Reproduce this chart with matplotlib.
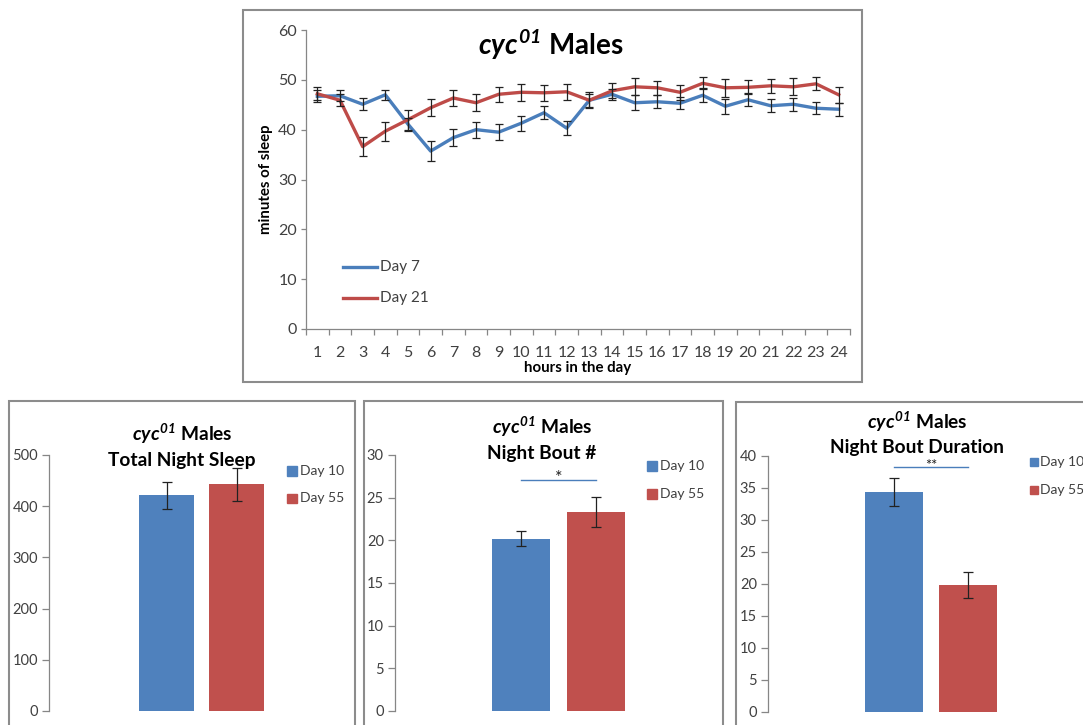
import matplotlib
matplotlib.use("Agg")
import matplotlib.pyplot as plt
from matplotlib.patches import Rectangle
from matplotlib.lines import Line2D
import numpy as np

plt.rcParams['font.family'] = ['Lato', 'DejaVu Sans']
plt.rcParams['mathtext.fontset'] = 'custom'
plt.rcParams['mathtext.it'] = 'Lato:italic:bold'
plt.rcParams['mathtext.rm'] = 'Lato:italic:bold'
plt.rcParams['mathtext.bf'] = 'Lato:bold'

# ---------------- data ----------------
hours = list(range(1, 25))
day7 = [46.7, 46.8, 45.1, 47.0, 41.1, 35.7, 38.4, 40.0, 39.5, 41.3, 43.4, 40.3,
        45.9, 47.1, 45.4, 45.6, 45.3, 46.9, 44.7, 46.0, 44.8, 45.1, 44.3, 44.1]
day7_err = [1.2, 1.1, 1.25, 1.0, 1.3, 2.0, 1.75, 1.6, 1.6, 1.5, 1.3, 1.45,
            1.3, 1.1, 1.5, 1.3, 1.25, 1.4, 1.5, 1.3, 1.3, 1.3, 1.25, 1.3]
day21 = [47.2, 45.9, 36.6, 39.7, 42.0, 44.4, 46.35, 45.4, 47.1, 47.5, 47.4, 47.6,
         45.9, 47.8, 48.6, 48.4, 47.5, 49.3, 48.4, 48.5, 48.8, 48.6, 49.2, 47.0]
day21_err = [1.3, 1.2, 1.9, 1.9, 2.0, 1.7, 1.7, 1.7, 1.55, 1.7, 1.55, 1.6,
             1.6, 1.5, 1.7, 1.4, 1.5, 1.2, 1.8, 1.4, 1.4, 1.7, 1.3, 1.55]
line_series = ['Day 7', 'Day 21']

groups = ['Day 10', 'Day 55']
total_sleep = [421, 443]
total_sleep_err = [27, 32]
bout_num = [20.2, 23.35]
bout_num_err = [0.9, 1.75]
bout_dur = [34.3, 19.8]
bout_dur_err = [2.2, 2.05]
bout_num_sig = ('*', 27.1)
bout_dur_sig = ('**', 38.2)

# ---------------- styling ----------------
BLUE_LINE = '#4A7EBB'
RED_LINE = '#BE4B48'
BLUE_BAR = '#4F81BD'
RED_BAR = '#C0504D'
AXIS_GREY = '#868686'
TEXT_GREY = '#404040'
FRAME = '#8C8C8C'

W, H = 1083, 725
fig = plt.figure(figsize=(W / 100, H / 100), dpi=100)


def fx(x):
    return x / W


def fy(y):
    return 1 - y / H


def px_axes(left, top, right, bottom):
    return fig.add_axes([left / W, 1 - bottom / H, (right - left) / W, (bottom - top) / H])


def frame(left, top, right, bottom):
    fig.add_artist(Rectangle((fx(left), fy(bottom)), (right - left) / W, (bottom - top) / H,
                             transform=fig.transFigure, fill=False, edgecolor=FRAME,
                             lw=1.5, clip_on=False))


def style_axes(ax, fs, ticklen):
    for s in ('top', 'right', 'bottom'):
        ax.spines[s].set_visible(False)
    ax.spines['left'].set_color(AXIS_GREY)
    ax.spines['left'].set_linewidth(0.9)
    ax.tick_params(axis='y', direction='out', length=ticklen, width=0.9, color=AXIS_GREY,
                   labelcolor=TEXT_GREY, labelsize=fs, pad=3)
    ax.set_facecolor('none')


TITLE_TOP = r'$cyc^{01}$ Males'

# ---------------- hourly sleep line chart ----------------
frame(243, 10, 862, 382)
ax = px_axes(306, 30, 850, 329)
style_axes(ax, 11.5, 3.5)
ax.spines['bottom'].set_visible(True)
ax.spines['bottom'].set_color(AXIS_GREY)
ax.spines['bottom'].set_linewidth(0.9)
ax.set_ylim(0, 60)
ax.set_yticks(np.arange(0, 61, 10))
ax.set_xlim(0.5, 24.5)
ax.set_xticks(np.arange(0.5, 25, 1))
ax.set_xticklabels([])
ax.set_xticks(hours, minor=True)
ax.set_xticklabels([str(h) for h in hours], minor=True)
ax.tick_params(axis='x', which='major', direction='out', length=4, width=0.9, color=AXIS_GREY)
ax.tick_params(axis='x', which='minor', length=0, labelsize=11.5, labelcolor=TEXT_GREY, pad=12)

for vals, errs, col, lab in ((day7, day7_err, BLUE_LINE, line_series[0]),
                             (day21, day21_err, RED_LINE, line_series[1])):
    ax.plot(hours, vals, color=col, lw=2.4, label=lab, zorder=2, solid_joinstyle='round')
    ax.errorbar(hours, vals, yerr=errs, fmt='none', ecolor='#222222', elinewidth=0.9,
                capsize=2.6, capthick=0.9, zorder=3)

ax.set_xlabel('hours in the day', fontsize=10.8, fontweight='bold', labelpad=1)
ax.set_ylabel('minutes of sleep', fontsize=10.8, fontweight='bold', labelpad=4)
fig.text(fx(551), fy(45), TITLE_TOP, ha='center', va='center', fontsize=20,
         fontweight='bold')

for y, col, lab in ((267, BLUE_LINE, line_series[0]), (298, RED_LINE, line_series[1])):
    fig.add_artist(Line2D([fx(343), fx(377)], [fy(y), fy(y)], color=col, lw=2.4,
                          transform=fig.transFigure))
    fig.text(fx(380), fy(y), lab, ha='left', va='center', fontsize=11, color=TEXT_GREY)


# ---------------- bar panels ----------------
def bar_panel(frame_box, spine_x, y_top, y_bottom, right_x, c_blue, c_red, bar_px,
              vals, errs, ymax, ystep, title2, title_xy, legend_xy, legend_sq=9,
              sig=None, sig_fs=10):
    frame(*frame_box)
    ax = px_axes(spine_x, y_top, right_x, y_bottom)
    style_axes(ax, 10.5, 5)
    spacing = c_red - c_blue
    ax.set_xlim((spine_x - c_blue) / spacing, (right_x - c_blue) / spacing)
    ax.set_ylim(0, ymax)
    ax.set_yticks(np.arange(0, ymax + 0.1, ystep))
    ax.set_xticks([])
    x = np.arange(len(vals))
    ax.bar(x, vals, width=bar_px / spacing, color=[BLUE_BAR, RED_BAR], zorder=2,
           edgecolor='none')
    ax.errorbar(x, vals, yerr=errs, fmt='none', ecolor='#222222', elinewidth=0.9,
                capsize=3.5, capthick=0.9, zorder=3)
    if sig is not None:
        mark, level = sig
        ax.plot(x, [level, level], color=BLUE_LINE, lw=1.0, clip_on=False, zorder=3)
        # asterisks sit high in their glyph box, so nudge the text down onto the line
        ax.annotate(mark, (x.mean(), level), xytext=(0, -0.35 * sig_fs),
                    textcoords='offset points', ha='center', va='bottom',
                    fontsize=sig_fs, color='#202020', annotation_clip=False)
    tx, ty = title_xy
    fig.text(fx(tx), fy(ty), TITLE_TOP, ha='center', va='center', fontsize=13.8,
             fontweight='bold')
    fig.text(fx(tx), fy(ty + 26), title2, ha='center', va='center', fontsize=13.8,
             fontweight='bold')
    lx, ly, dy = legend_xy
    for i, (g, col) in enumerate(zip(groups, [BLUE_BAR, RED_BAR])):
        yy = ly + dy * i
        fig.add_artist(Rectangle((fx(lx), fy(yy + legend_sq / 2)), legend_sq / W,
                                 legend_sq / H, transform=fig.transFigure, color=col))
        fig.text(fx(lx + legend_sq + 3), fy(yy), g, ha='left', va='center', fontsize=10,
                 color=TEXT_GREY)
    return ax


bar_panel((9, 401, 355, 740), 49, 455, 711, 280, 166.5, 236.5, 55,
          total_sleep, total_sleep_err, 500, 100, 'Total Night Sleep',
          (182, 434), (287, 471, 27.5), legend_sq=9.5)
bar_panel((364, 401, 723, 740), 395, 455, 711, 640, 521, 596, 58,
          bout_num, bout_num_err, 30, 5, 'Night Bout #',
          (542, 427), (647, 466, 28), legend_sq=9.5, sig=bout_num_sig, sig_fs=13)
bar_panel((736, 402, 1100, 740), 768, 456, 711.5, 1020, 894, 968, 58,
          bout_dur, bout_dur_err, 40, 5, 'Night Bout Duration',
          (917, 422), (1030, 462, 28), legend_sq=7.5, sig=bout_dur_sig, sig_fs=10.5)

fig.savefig('out.png', dpi=100, facecolor='white')
